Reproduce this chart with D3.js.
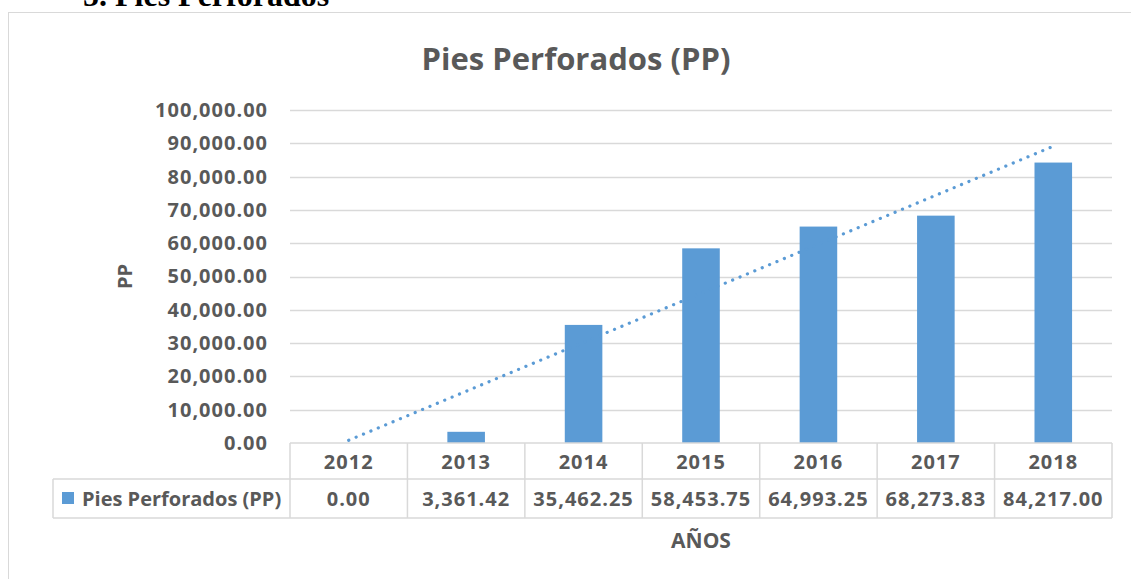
<!DOCTYPE html>
<html>
<head>
<meta charset="utf-8">
<script src="https://cdn.jsdelivr.net/npm/d3@7"></script>
<style>
  body { margin: 0; background: #fff; }
  text { font-family: "Open Sans", Lato, sans-serif; font-weight: bold; fill: #595959; }
  .num { font-size: 20px; letter-spacing: 1px; }
</style>
</head>
<body>
<div id="viz"></div>
<script>
// data
var years = ["2012", "2013", "2014", "2015", "2016", "2017", "2018"];
var values = [0, 3361.42, 35462.25, 58453.75, 64993.25, 68273.83, 84217.00];
var yTicks = [0, 10000, 20000, 30000, 40000, 50000, 60000, 70000, 80000, 90000, 100000];
var seriesName = "Pies Perforados (PP)";

var W = 1131, H = 579;
var plot = { left: 290, right: 1112, top: 110, bottom: 443 };
var rowH1 = 36, rowH2 = 39, tableLeft = 53;
var barColor = "#5b9bd5", gridColor = "#d9d9d9";

var svg = d3.select("#viz").append("svg")
  .attr("width", W)
  .attr("height", H);

// section heading, cut at the top of the page as in the scan
svg.append("text")
  .attr("x", 83).attr("y", 6)
  .style("font-family", "'Liberation Serif', serif")
  .style("font-size", "32px")
  .style("fill", "#000")
  .text("5. Pies Perforados");

// chart border
svg.append("rect")
  .attr("x", 8.5).attr("y", 12.5)
  .attr("width", 1130).attr("height", 620)
  .attr("fill", "none")
  .attr("stroke", gridColor);

var x = d3.scaleBand().domain(years).range([plot.left, plot.right]);
var y = d3.scaleLinear().domain([0, 100000]).range([plot.bottom, plot.top]);
var fmt = d3.format(",.2f");

// title
svg.append("text")
  .attr("x", 576).attr("y", 70)
  .attr("text-anchor", "middle")
  .style("font-size", "31px")
  .text(seriesName);

// gridlines
svg.append("g").selectAll("line")
  .data(yTicks.filter(function (d) { return d > 0; }))
  .enter().append("line")
  .attr("x1", plot.left).attr("x2", plot.right)
  .attr("y1", function (d) { return Math.round(y(d)) + 0.5; })
  .attr("y2", function (d) { return Math.round(y(d)) + 0.5; })
  .attr("stroke", gridColor)
  .attr("stroke-width", 1.5);

// y axis labels
var yAxis = d3.axisLeft(y).tickValues(yTicks).tickFormat(fmt).tickSize(0).tickPadding(0);
var gy = svg.append("g")
  .attr("transform", "translate(" + 268 + ",0)")
  .call(yAxis);
gy.select(".domain").remove();
gy.selectAll("text")
  .attr("class", "num")
  .style("font-family", null)
  .attr("font-size", null)
  .attr("fill", null);

// y title
svg.append("text")
  .attr("transform", "translate(132," + ((plot.top + plot.bottom) / 2) + ") rotate(-90)")
  .attr("text-anchor", "middle")
  .style("font-size", "20px")
  .text("PP");

// bars
var bw = x.bandwidth() * 0.32;
svg.append("g").selectAll("rect")
  .data(values)
  .enter().append("rect")
  .attr("x", function (d, i) { return x(years[i]) + x.bandwidth() / 2 - bw / 2; })
  .attr("width", bw)
  .attr("y", function (d) { return y(d); })
  .attr("height", function (d) { return plot.bottom - y(d); })
  .attr("fill", barColor);

// linear trendline
var n = values.length, mx = (n + 1) / 2, my = d3.mean(values);
var sxy = d3.sum(values, function (d, i) { return (i + 1 - mx) * (d - my); });
var sxx = d3.sum(values, function (d, i) { return (i + 1 - mx) * (i + 1 - mx); });
var slope = sxy / sxx, icpt = my - slope * mx;
var cx = function (i) { return x(years[i]) + x.bandwidth() / 2; };
svg.append("line")
  .attr("x1", cx(0)).attr("y1", y(icpt + slope * 1))
  .attr("x2", cx(n - 1)).attr("y2", y(icpt + slope * n))
  .attr("stroke", barColor)
  .attr("stroke-width", 3.2)
  .attr("stroke-linecap", "round")
  .attr("stroke-dasharray", "0.1 7.9");

// data table
var tbl = svg.append("g").attr("stroke", gridColor).attr("stroke-width", 1.5).attr("fill", "none");
var r1 = plot.bottom, r2 = r1 + rowH1, r3 = r2 + rowH2;
tbl.append("line").attr("x1", plot.left).attr("x2", plot.right).attr("y1", r1).attr("y2", r1);
tbl.append("line").attr("x1", tableLeft).attr("x2", plot.right).attr("y1", r2).attr("y2", r2);
tbl.append("line").attr("x1", tableLeft).attr("x2", plot.right).attr("y1", r3).attr("y2", r3);
tbl.append("line").attr("x1", tableLeft).attr("x2", tableLeft).attr("y1", r2).attr("y2", r3);
tbl.selectAll(".v")
  .data(years.map(function (d) { return x(d); }).concat([plot.right]))
  .enter().append("line")
  .attr("x1", function (d) { return d; }).attr("x2", function (d) { return d; })
  .attr("y1", r1).attr("y2", r3);

svg.append("g").selectAll("text")
  .data(years)
  .enter().append("text")
  .attr("class", "num")
  .attr("x", function (d) { return x(d) + x.bandwidth() / 2; })
  .attr("y", r1 + 26)
  .attr("text-anchor", "middle")
  .text(function (d) { return d; });

svg.append("g").selectAll("text")
  .data(values)
  .enter().append("text")
  .attr("class", "num")
  .attr("x", function (d, i) { return cx(i); })
  .attr("y", r2 + 27)
  .attr("text-anchor", "middle")
  .text(function (d) { return fmt(d); });

// legend key in table
svg.append("rect")
  .attr("x", 62).attr("y", r2 + 13)
  .attr("width", 12).attr("height", 12)
  .attr("fill", barColor);
svg.append("text")
  .attr("x", 82).attr("y", r2 + 27)
  .style("font-size", "20px")
  .text(seriesName);

// x title
svg.append("text")
  .attr("x", (plot.left + plot.right) / 2).attr("y", 548)
  .attr("text-anchor", "middle")
  .style("font-size", "21px")
  .text("AÑOS");
</script>
</body>
</html>
